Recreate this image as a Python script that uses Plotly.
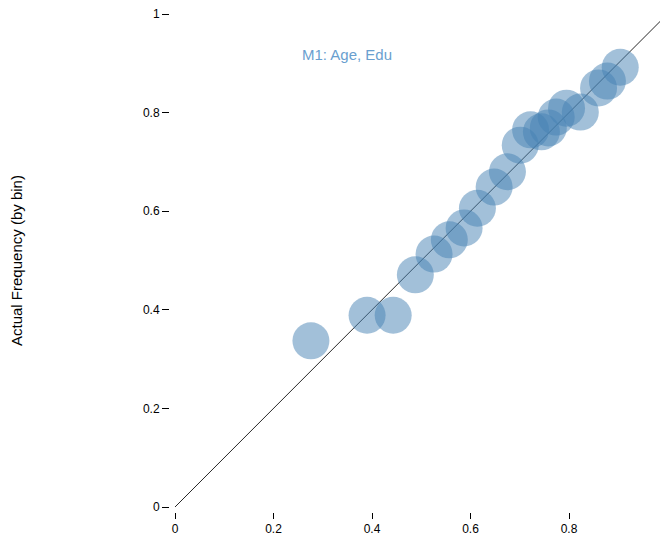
import plotly.graph_objects as go

predicted = [0.276, 0.390, 0.443, 0.488, 0.526, 0.557, 0.587, 0.614, 0.648, 0.675,
             0.701, 0.722, 0.744, 0.758, 0.774, 0.795, 0.823, 0.860, 0.878, 0.904]
actual = [0.337, 0.389, 0.389, 0.471, 0.513, 0.542, 0.566, 0.606, 0.649, 0.680,
          0.734, 0.765, 0.761, 0.769, 0.791, 0.809, 0.801, 0.850, 0.864, 0.892]
ticks = [0, 0.2, 0.4, 0.6, 0.8, 1]
tick_labels = ["0", "0.2", "0.4", "0.6", "0.8", "1"]
diag = [0, 1]
model_label = "M1: Age, Edu"
y_title = "Actual Frequency (by bin)"

fig = go.Figure()
fig.add_trace(go.Scatter(x=diag, y=diag, mode="lines",
                         line=dict(color="rgba(0,0,0,0.85)", width=1),
                         hoverinfo="skip", showlegend=False))
fig.add_trace(go.Scatter(x=predicted, y=actual, mode="markers",
                         marker=dict(size=37, color="steelblue", opacity=0.5,
                                     line=dict(width=0)),
                         showlegend=False))

fam = "Liberation Sans, Arial, sans-serif"
font = dict(family=fam, size=12, color="black")
fig.update_layout(
    width=668, height=528,
    margin=dict(l=162, r=8, t=0, b=24),
    paper_bgcolor="white", plot_bgcolor="white",
    font=font,
    xaxis=dict(range=[-0.01015, 1.001], tickvals=ticks, ticktext=tick_labels,
               showgrid=False, zeroline=False, showline=False,
               ticks="outside", ticklen=6, tickcolor="black", tickwidth=1,
               tickfont=font, ticklabeloverflow="allow"),
    yaxis=dict(range=[-0.01014, 1.01217], tickvals=ticks, ticktext=tick_labels,
               showgrid=False, zeroline=False, showline=False,
               ticks="outside", ticklen=7, tickcolor="black", tickwidth=1,
               tickfont=font, ticklabeloverflow="allow"),
    annotations=[
        dict(x=0.349, y=0.917, xref="x", yref="y", text=model_label,
             showarrow=False, font=dict(family=fam, size=15, color="#6a9fcf")),
        dict(x=(8 - 162) / 498, y=(504 - 253) / 504, xref="paper", yref="paper",
             text=y_title, textangle=-90, showarrow=False,
             xanchor="center", yanchor="middle",
             font=dict(family=fam, size=15, color="black")),
    ],
)
fig.write_html("out.html")
